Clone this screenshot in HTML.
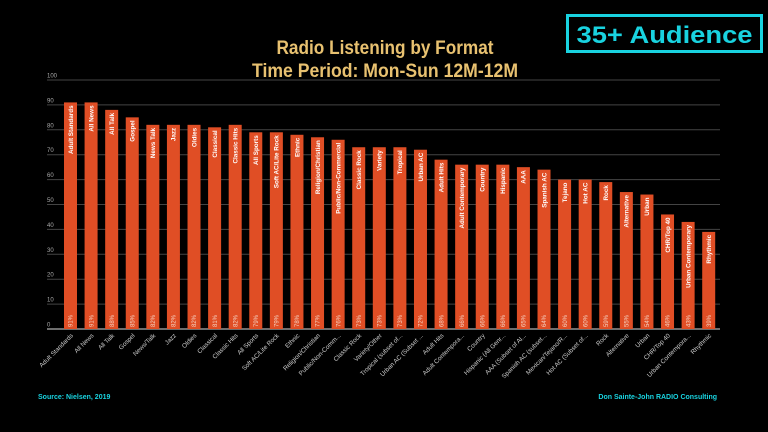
<!DOCTYPE html>
<html><head><meta charset="utf-8"><style>
html,body{margin:0;padding:0;background:#000;}
svg{display:block;font-family:"Liberation Sans",sans-serif;}
</style></head><body>
<svg id="chart" width="768" height="432" viewBox="0 0 768 432" xmlns="http://www.w3.org/2000/svg">
<rect width="768" height="432" fill="#000"/>
<text x="385" y="54" text-anchor="middle" fill="#e8c170" font-size="19" font-weight="bold" textLength="217" lengthAdjust="spacingAndGlyphs">Radio Listening by Format</text>
<text x="385" y="77" text-anchor="middle" fill="#e8c170" font-size="19" font-weight="bold" textLength="266" lengthAdjust="spacingAndGlyphs">Time Period: Mon-Sun 12M-12M</text>
<g>
<rect x="567.5" y="15.5" width="194" height="36" fill="none" stroke="#19d3e0" stroke-width="3"/>
<text x="664.5" y="43" text-anchor="middle" fill="#19d3e0" font-size="24" font-weight="bold" textLength="176" lengthAdjust="spacingAndGlyphs">35+ Audience</text>
</g>
<g id="grid"></g><g id="bars"></g><g id="xlabels"></g>
<text x="38" y="399" fill="#19d3e0" font-size="7" font-weight="bold">Source:   Nielsen, 2019</text>
<text x="717" y="399" text-anchor="end" fill="#19d3e0" font-size="7" font-weight="bold">Don Sainte-John RADIO Consulting</text>
</svg>
<script>
const categories=["Adult Standards","All News","All Talk","Gospel","News/Talk","Jazz","Oldies","Classical","Classic Hits","All Sports","Soft AC/Lite Rock","Ethnic","Religion/Christian","Public/Non-Comm...","Classic Rock","Variety/Other","Tropical (subset of...","Urban AC (Subset ...","Adult Hits","Adult Contempora...","Country","Hispanic (All Genr...","AAA (Subset of Al...","Spanish AC (subset...","Mexican/Tejano/R...","Hot AC (Subset of...","Rock","Alternative","Urban","CHR/Top 40","Urban Contempora...","Rhythmic"];
const innerLabels=["Adult Standards","All News","All Talk","Gospel","News Talk","Jazz","Oldies","Classical","Classic Hits","All Sports","Soft AC/Lite Rock","Ethnic","Religion/Christian","Public/Non-Commercial","Classic Rock","Variety","Tropical","Urban AC","Adult Hits","Adult Contemporary","Country","Hispanic","AAA","Spanish AC","Tejano","Hot AC","Rock","Alternative","Urban","CHR/Top 40","Urban Contemporary","Rhythmic"];
const values=[91,91,88,85,82,82,82,81,82,79,79,78,77,76,73,73,73,72,68,66,66,66,65,64,60,60,59,55,54,46,43,39];
const ticks=[0,10,20,30,40,50,60,70,80,90,100];
const NS="http://www.w3.org/2000/svg";
const x0=60.2,x1=719,y0=329,y1=80,bw=13;
const band=(x1-x0)/categories.length;
const yS=v=>y0-(v/100)*(y0-y1);
const xC=i=>x0+band*(i+0.5);
function mk(t,a,p){const e=document.createElementNS(NS,t);for(const k in a)e.setAttribute(k,a[k]);p.appendChild(e);return e;}
const g=document.getElementById('grid'),b=document.getElementById('bars'),xl=document.getElementById('xlabels');
ticks.forEach(t=>{
 const l=mk('line',{x1:47,x2:720,y1:yS(t),y2:yS(t),stroke:t===0?'#ddd':'#444','stroke-width':1},g);
 
 
 const tx=mk('text',{x:47,y:yS(t)-2.5,fill:'#aaa','font-size':6},g);
 tx.textContent=t;
 
 
});
values.forEach((v,i)=>{
 const cx=xC(i);
 const r=mk('rect',{x:cx-bw/2,y:yS(v),width:bw,height:y0-yS(v),fill:'#e04e25'},b);
 
 
 const it=mk('text',{transform:`translate(${cx+2.3},${yS(v)+3}) rotate(-90)`,'text-anchor':'end',fill:'#fff','font-size':6.3,'font-weight':'bold'},b);
 it.textContent=innerLabels[i];
 
 
 const vt=mk('text',{transform:`translate(${cx+2.2},${y0-2}) rotate(-90)`,fill:'#f4d0c0','font-size':6},b);
 vt.textContent=v+'%';
 
 
 const xt=mk('text',{transform:`translate(${cx+3},${y0+7}) rotate(-45)`,'text-anchor':'end',fill:'#ccc','font-size':6.3},xl);
 xt.textContent=categories[i];
 
 
});
</script>
</body></html>
